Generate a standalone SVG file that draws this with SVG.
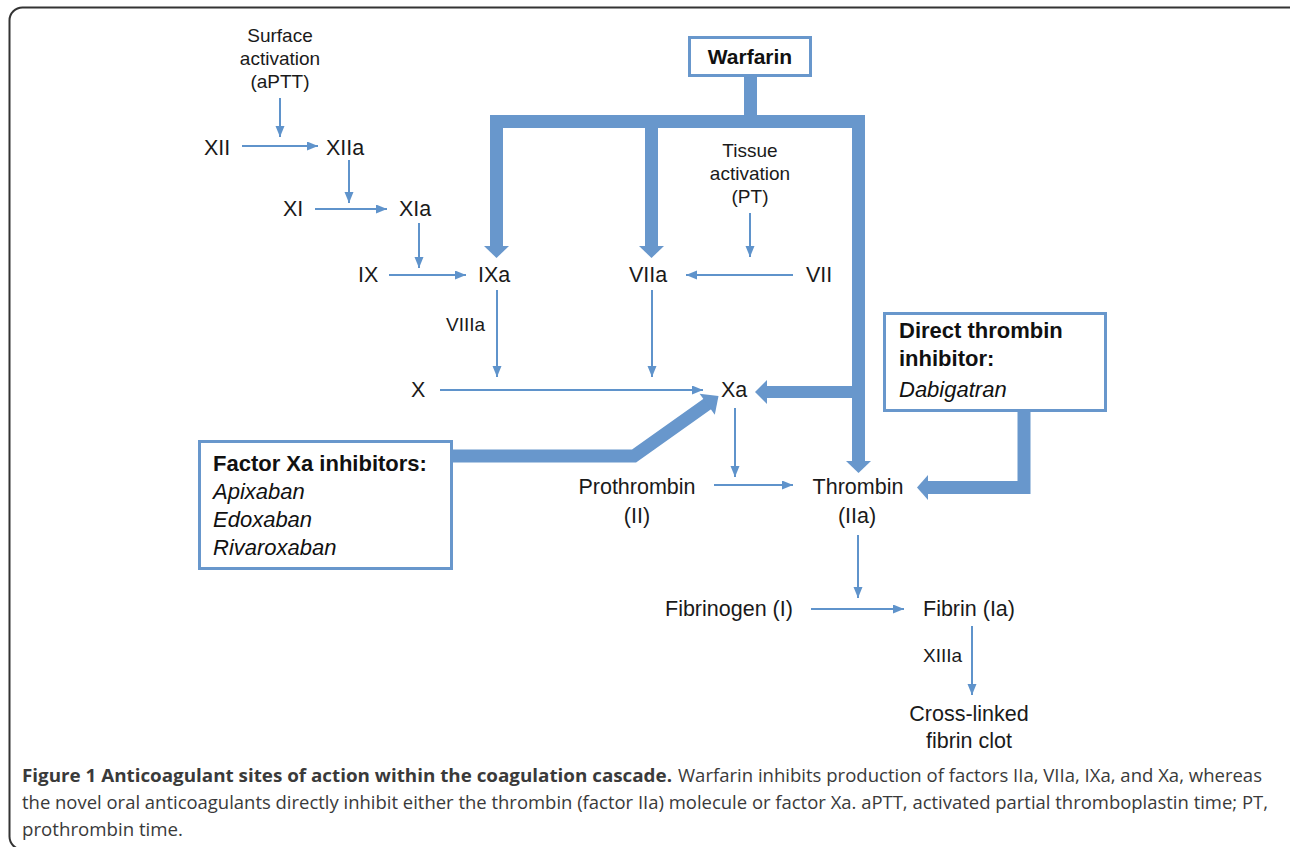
<svg xmlns="http://www.w3.org/2000/svg" width="1290" height="847" viewBox="0 0 1290 847">
<style>
.lbl{font-family:"Liberation Sans",Arial,sans-serif;font-size:21.5px;fill:#1a1a1a}
.sm{font-family:"Liberation Sans",Arial,sans-serif;font-size:19px;fill:#1a1a1a}
.bx{fill:#fff;stroke:#6897cc;stroke-width:3}
.bt{font-family:"Liberation Sans",Arial,sans-serif;font-size:22px;font-weight:bold;fill:#111}
.it{font-family:"Liberation Sans",Arial,sans-serif;font-size:22px;font-style:italic;fill:#111}
.thin{stroke:#5f93cb;stroke-width:2;fill:none;marker-end:url(#ah)}
.thick{stroke:#6897cc;stroke-width:13;fill:none}
.hd{fill:#6897cc}
.cap{font-family:"Open Sans","DejaVu Sans",sans-serif;font-size:18px;fill:#3a3a3a}
</style>
<defs>
<marker id="ah" markerUnits="userSpaceOnUse" markerWidth="12" markerHeight="10" refX="11" refY="4.5" orient="auto">
<path d="M0,0 L11,4.5 L0,9 Z" fill="#5f93cb"/>
</marker>
</defs>
<rect width="1290" height="847" fill="#fff"/>
<rect x="9.5" y="7.5" width="1292" height="842" rx="13" fill="none" stroke="#333" stroke-width="2"/>

<g id="connectors">
<line class="thin" x1="280" y1="98" x2="280" y2="137"/>
<line class="thin" x1="242" y1="146" x2="318" y2="146"/>
<line class="thin" x1="349" y1="160" x2="349" y2="203"/>
<line class="thin" x1="315" y1="209" x2="387" y2="209"/>
<line class="thin" x1="419" y1="223" x2="419" y2="268"/>
<line class="thin" x1="389" y1="275" x2="466" y2="275"/>
<line class="thin" x1="750" y1="213" x2="750" y2="257"/>
<line class="thin" x1="793" y1="275" x2="686" y2="275"/>
<line class="thin" x1="497" y1="290" x2="497" y2="377"/>
<line class="thin" x1="652" y1="290" x2="652" y2="377"/>
<line class="thin" x1="440" y1="390" x2="703" y2="390"/>
<line class="thin" x1="735" y1="408" x2="735" y2="477"/>
<line class="thin" x1="714" y1="485" x2="793" y2="485"/>
<line class="thin" x1="858" y1="535" x2="858" y2="598"/>
<line class="thin" x1="811" y1="609" x2="904" y2="609"/>
<line class="thin" x1="972" y1="626" x2="972" y2="695"/>

<!-- warfarin tree -->
<line class="thick" x1="750.5" y1="76" x2="750.5" y2="116"/>
<rect class="hd" x="490" y="115" width="375" height="13"/>
<line class="thick" x1="496.5" y1="120" x2="496.5" y2="247"/>
<polygon class="hd" points="484,246 509,246 496.5,258"/>
<line class="thick" x1="651.5" y1="120" x2="651.5" y2="247"/>
<polygon class="hd" points="639,246 664,246 651.5,258"/>
<line class="thick" x1="858.5" y1="120" x2="858.5" y2="462"/>
<polygon class="hd" points="846,461 871,461 858.5,473"/>
<line x1="859" y1="392" x2="766" y2="392" stroke="#6897cc" stroke-width="12"/>
<polygon class="hd" points="767,380 767,404 755,392"/>

<!-- dabigatran -->
<polyline class="thick" points="1024,411 1024,487.5 927,487.5"/>
<polygon class="hd" points="928,475 928,500 917,487.5"/>

<!-- factor Xa -->
<polyline class="thick" points="452,456 634,456 708,403.5" stroke-linejoin="miter"/>
<polygon class="hd" points="718.5,396 714.8,414.7 699.6,393.7"/>
</g>

<g id="surface"><text class="sm" text-anchor="middle"><tspan x="280" y="42">Surface</tspan><tspan x="280" y="65">activation</tspan><tspan x="280" y="88">(aPTT)</tspan></text></g>
<g id="tissue"><text class="sm" text-anchor="middle"><tspan x="750" y="157">Tissue</tspan><tspan x="750" y="180">activation</tspan><tspan x="750" y="203">(PT)</tspan></text></g>

<g id="n-XII"><text class="lbl" x="204" y="155">XII</text></g>
<g id="n-XIIa"><text class="lbl" x="326" y="155">XIIa</text></g>
<g id="n-XI"><text class="lbl" x="283" y="216">XI</text></g>
<g id="n-XIa"><text class="lbl" x="399" y="216">XIa</text></g>
<g id="n-IX"><text class="lbl" x="358" y="282">IX</text></g>
<g id="n-IXa"><text class="lbl" x="478" y="282">IXa</text></g>
<g id="n-VIIa"><text class="lbl" x="629" y="282">VIIa</text></g>
<g id="n-VII"><text class="lbl" x="806" y="282">VII</text></g>
<g id="n-VIIIa"><text class="sm" x="446" y="331">VIIIa</text></g>
<g id="n-X"><text class="lbl" x="411" y="397">X</text></g>
<g id="n-Xa"><text class="lbl" x="721" y="397">Xa</text></g>
<g id="n-prothrombin"><text class="lbl" text-anchor="middle"><tspan x="637" y="494">Prothrombin</tspan><tspan x="637" y="523">(II)</tspan></text></g>
<g id="n-thrombin"><text class="lbl" text-anchor="middle"><tspan x="858" y="494">Thrombin</tspan><tspan x="857" y="523">(IIa)</tspan></text></g>
<g id="n-fibrinogen"><text class="lbl" x="665" y="616">Fibrinogen (I)</text></g>
<g id="n-fibrin"><text class="lbl" x="923" y="616">Fibrin (Ia)</text></g>
<g id="n-XIIIa"><text class="sm" x="923" y="662">XIIIa</text></g>
<g id="n-clot"><text class="lbl" text-anchor="middle"><tspan x="969" y="721">Cross-linked</tspan><tspan x="969" y="748">fibrin clot</tspan></text></g>

<g id="warfarin">
<rect class="bx" x="689.5" y="37.5" width="121" height="38"/>
<text class="bt" x="750" y="64" text-anchor="middle" style="font-size:21px">Warfarin</text>
</g>
<g id="dti">
<rect class="bx" x="884.5" y="313.5" width="221" height="97"/>
<text class="bt" x="899" y="338">Direct thrombin</text>
<text class="bt" x="899" y="366">inhibitor:</text>
<text class="it" x="899" y="397">Dabigatran</text>
</g>
<g id="fxa">
<rect class="bx" x="199.5" y="441.5" width="252" height="127"/>
<text class="bt" x="213" y="471">Factor Xa inhibitors:</text>
<text class="it" x="213" y="499">Apixaban</text>
<text class="it" x="213" y="527">Edoxaban</text>
<text class="it" x="213" y="555">Rivaroxaban</text>
</g>

<g id="caption">
<text class="cap" x="22" y="782" font-weight="bold" fill="#222" textLength="650" lengthAdjust="spacingAndGlyphs">Figure 1 Anticoagulant sites of action within the coagulation cascade.</text>
<text class="cap" x="678" y="782" textLength="584" lengthAdjust="spacingAndGlyphs">Warfarin inhibits production of factors IIa, VIIa, IXa, and Xa, whereas</text>
<text class="cap" x="22" y="809" textLength="1246" lengthAdjust="spacingAndGlyphs">the novel oral anticoagulants directly inhibit either the thrombin (factor IIa) molecule or factor Xa. aPTT, activated partial thromboplastin time; PT,</text>
<text class="cap" x="22" y="836" textLength="161" lengthAdjust="spacingAndGlyphs">prothrombin time.</text>
</g>
</svg>
